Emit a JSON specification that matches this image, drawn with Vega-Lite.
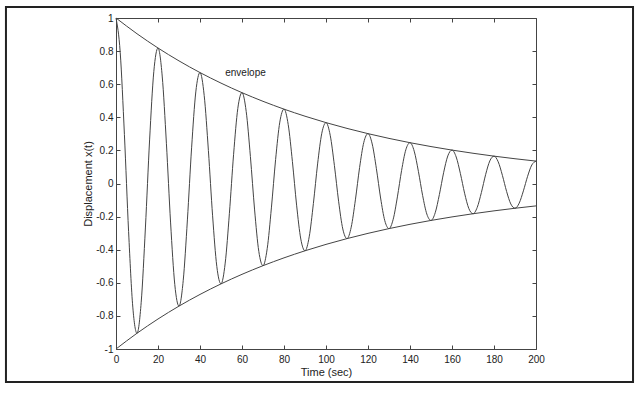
{
  "$schema": "https://vega.github.io/schema/vega-lite/v6.json",
  "width": 420,
  "height": 331,
  "autosize": {"type": "none"},
  "padding": {"left": 116, "top": 18, "right": 108, "bottom": 49},
  "background": "white",
  "datasets": {
    "wave": [
      {"t":0,"x":1},{"t":2,"x":0.793},{"t":4,"x":0.2969},{"t":6,"x":-0.291},{"t":8,"x":-0.7468},
      {"t":10,"x":-0.9048},{"t":12,"x":-0.7175},{"t":14,"x":-0.2687},{"t":16,"x":0.2633},{"t":18,"x":0.6758},
      {"t":20,"x":0.8187},{"t":22,"x":0.6493},{"t":24,"x":0.2431},{"t":26,"x":-0.2383},{"t":28,"x":-0.6114},
      {"t":30,"x":-0.7408},{"t":32,"x":-0.5875},{"t":34,"x":-0.22},{"t":36,"x":0.2156},{"t":38,"x":0.5533},
      {"t":40,"x":0.6703},{"t":42,"x":0.5316},{"t":44,"x":0.199},{"t":46,"x":-0.1951},{"t":48,"x":-0.5006},
      {"t":50,"x":-0.6065},{"t":52,"x":-0.481},{"t":54,"x":-0.1801},{"t":56,"x":0.1765},{"t":58,"x":0.453},
      {"t":60,"x":0.5488},{"t":62,"x":0.4352},{"t":64,"x":0.1629},{"t":66,"x":-0.1597},{"t":68,"x":-0.4099},
      {"t":70,"x":-0.4966},{"t":72,"x":-0.3938},{"t":74,"x":-0.1474},{"t":76,"x":0.1445},{"t":78,"x":0.3709},
      {"t":80,"x":0.4493},{"t":82,"x":0.3563},{"t":84,"x":0.1334},{"t":86,"x":-0.1308},{"t":88,"x":-0.3356},
      {"t":90,"x":-0.4066},{"t":92,"x":-0.3224},{"t":94,"x":-0.1207},{"t":96,"x":0.1183},{"t":98,"x":0.3036},
      {"t":100,"x":0.3679},{"t":102,"x":0.2917},{"t":104,"x":0.1092},{"t":106,"x":-0.1071},{"t":108,"x":-0.2747},
      {"t":110,"x":-0.3329},{"t":112,"x":-0.264},{"t":114,"x":-0.0988},{"t":116,"x":0.0969},{"t":118,"x":0.2486},
      {"t":120,"x":0.3012},{"t":122,"x":0.2389},{"t":124,"x":0.0894},{"t":126,"x":-0.0877},{"t":128,"x":-0.2249},
      {"t":130,"x":-0.2725},{"t":132,"x":-0.2161},{"t":134,"x":-0.0809},{"t":136,"x":0.0793},{"t":138,"x":0.2035},
      {"t":140,"x":0.2466},{"t":142,"x":0.1956},{"t":144,"x":0.0732},{"t":146,"x":-0.0718},{"t":148,"x":-0.1842},
      {"t":150,"x":-0.2231},{"t":152,"x":-0.1769},{"t":154,"x":-0.0663},{"t":156,"x":0.0649},{"t":158,"x":0.1666},
      {"t":160,"x":0.2019},{"t":162,"x":0.1601},{"t":164,"x":0.0599},{"t":166,"x":-0.0588},{"t":168,"x":-0.1508},
      {"t":170,"x":-0.1827},{"t":172,"x":-0.1449},{"t":174,"x":-0.0542},{"t":176,"x":0.0532},{"t":178,"x":0.1364},
      {"t":180,"x":0.1653},{"t":182,"x":0.1311},{"t":184,"x":0.0491},{"t":186,"x":-0.0481},{"t":188,"x":-0.1235},
      {"t":190,"x":-0.1496},{"t":192,"x":-0.1186},{"t":194,"x":-0.0444},{"t":196,"x":0.0435},{"t":198,"x":0.1117},
      {"t":200,"x":0.1353}
    ],
    "env": [
      {"t":0,"side":"upper","v":1},{"t":10,"side":"upper","v":0.9048},{"t":20,"side":"upper","v":0.8187},
      {"t":30,"side":"upper","v":0.7408},{"t":40,"side":"upper","v":0.6703},{"t":50,"side":"upper","v":0.6065},
      {"t":60,"side":"upper","v":0.5488},{"t":70,"side":"upper","v":0.4966},{"t":80,"side":"upper","v":0.4493},
      {"t":90,"side":"upper","v":0.4066},{"t":100,"side":"upper","v":0.3679},{"t":110,"side":"upper","v":0.3329},
      {"t":120,"side":"upper","v":0.3012},{"t":130,"side":"upper","v":0.2725},{"t":140,"side":"upper","v":0.2466},
      {"t":150,"side":"upper","v":0.2231},{"t":160,"side":"upper","v":0.2019},{"t":170,"side":"upper","v":0.1827},
      {"t":180,"side":"upper","v":0.1653},{"t":190,"side":"upper","v":0.1496},{"t":200,"side":"upper","v":0.1353},
      {"t":0,"side":"lower","v":-1},{"t":10,"side":"lower","v":-0.9048},{"t":20,"side":"lower","v":-0.8187},
      {"t":30,"side":"lower","v":-0.7408},{"t":40,"side":"lower","v":-0.6703},{"t":50,"side":"lower","v":-0.6065},
      {"t":60,"side":"lower","v":-0.5488},{"t":70,"side":"lower","v":-0.4966},{"t":80,"side":"lower","v":-0.4493},
      {"t":90,"side":"lower","v":-0.4066},{"t":100,"side":"lower","v":-0.3679},{"t":110,"side":"lower","v":-0.3329},
      {"t":120,"side":"lower","v":-0.3012},{"t":130,"side":"lower","v":-0.2725},{"t":140,"side":"lower","v":-0.2466},
      {"t":150,"side":"lower","v":-0.2231},{"t":160,"side":"lower","v":-0.2019},{"t":170,"side":"lower","v":-0.1827},
      {"t":180,"side":"lower","v":-0.1653},{"t":190,"side":"lower","v":-0.1496},{"t":200,"side":"lower","v":-0.1353}
    ],
    "label": [{"t":52,"v":0.67,"text":"envelope"}],
    "frame": [{"x1":-52.4,"x2":246.2,"y1":1.066,"y2":-1.199}]
  },
  "layer": [
    {
      "data": {"name": "frame"},
      "mark": {"type": "rect", "filled": false, "stroke": "#222", "strokeWidth": 2, "clip": false},
      "encoding": {
        "x": {"field": "x1", "type": "quantitative", "scale": {"domain": [0, 200], "nice": false, "zero": false}, "axis": null},
        "x2": {"field": "x2"},
        "y": {"field": "y1", "type": "quantitative", "scale": {"domain": [-1, 1], "nice": false, "zero": false}, "axis": null},
        "y2": {"field": "y2"}
      }
    },
    {
      "data": {"name": "env"},
      "mark": {"type": "line", "stroke": "#444", "strokeWidth": 1, "interpolate": "monotone"},
      "encoding": {
        "x": {"field": "t", "type": "quantitative", "scale": {"domain": [0, 200], "nice": false, "zero": false},
              "axis": {"orient": "top", "labels": false, "title": null, "tickCount": 10}},
        "y": {"field": "v", "type": "quantitative", "scale": {"domain": [-1, 1], "nice": false, "zero": false},
              "axis": {"orient": "right", "labels": false, "title": null, "tickCount": 10}},
        "detail": {"field": "side"}
      }
    },
    {
      "data": {"name": "wave"},
      "mark": {"type": "line", "stroke": "#444", "strokeWidth": 1, "interpolate": "monotone"},
      "encoding": {
        "x": {"field": "t", "type": "quantitative", "scale": {"domain": [0, 200], "nice": false, "zero": false},
              "axis": {"orient": "bottom", "title": "Time (sec)", "tickCount": 10, "format": "d", "labelPadding": 9, "titlePadding": 2}},
        "y": {"field": "x", "type": "quantitative", "scale": {"domain": [-1, 1], "nice": false, "zero": false},
              "axis": {"orient": "left", "title": "Displacement x(t)", "tickCount": 10, "format": "~g", "labelPadding": 7, "titlePadding": 2}}
      }
    },
    {
      "data": {"name": "label"},
      "mark": {"type": "text", "align": "left", "baseline": "middle", "font": "Liberation Sans", "fontSize": 10, "color": "#222"},
      "encoding": {
        "x": {"field": "t", "type": "quantitative", "scale": {"domain": [0, 200], "nice": false, "zero": false}, "axis": null},
        "y": {"field": "v", "type": "quantitative", "scale": {"domain": [-1, 1], "nice": false, "zero": false}, "axis": null},
        "text": {"field": "text"}
      }
    }
  ],
  "resolve": {"axis": {"x": "independent", "y": "independent"}},
  "config": {
    "locale": {"number": {"decimal": ".", "thousands": ",", "grouping": [3], "currency": ["$", ""], "minus": "-"}},
    "view": {"stroke": "#444", "strokeWidth": 1},
    "axis": {
      "domain": false,
      "grid": false,
      "tickColor": "#444",
      "tickSize": -4,
      "labelFlush": false,
      "labelOverlap": false,
      "labelFont": "Liberation Sans",
      "labelFontSize": 10,
      "labelColor": "#222",
      "titleFont": "Liberation Sans",
      "titleFontSize": 11,
      "titleFontWeight": "normal",
      "titleColor": "#222"
    }
  }
}
